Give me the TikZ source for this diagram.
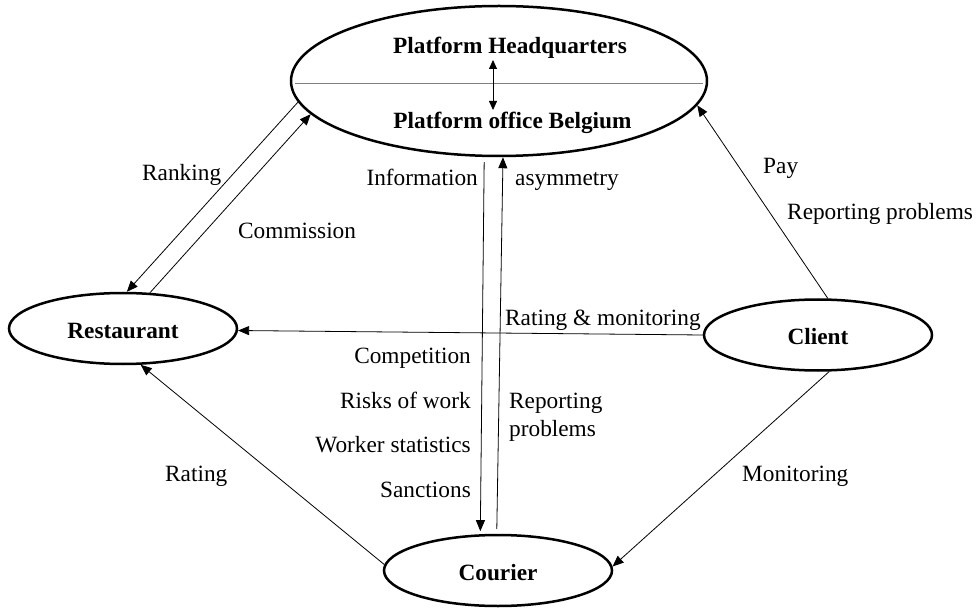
\documentclass[tikz,border=0pt]{standalone}
\usepackage{fontspec}
\setmainfont{Liberation Serif}
\usetikzlibrary{shapes.geometric,arrows.meta}
\begin{document}
\begin{tikzpicture}[x=1pt,y=-1pt,
  ell/.style={ellipse, draw, line width=2.5pt, inner sep=0pt, minimum width=228pt, minimum height=71pt,
    font=\fontsize{23.3}{28}\selectfont\bfseries, text height=19pt, text depth=0pt},
  lbl/.style={font=\fontsize{23.3}{28}\selectfont, inner sep=0pt},
  hdr/.style={font=\fontsize{23.3}{28}\selectfont\bfseries, inner sep=0pt},
  conn/.style={line width=0.8pt, -{Triangle[length=11pt,width=9pt]}},
  dblarr/.style={line width=0.8pt, {Triangle[length=9pt,width=8pt]}-{Triangle[length=9pt,width=8pt]}},
]
\useasboundingbox (0,0) rectangle (976,609);

% ellipses
\node[ell, minimum width=416pt, minimum height=150pt] (hq) at (499,81) {};
\node[ell] (rest) at (123,328.5) {Restaurant};
\node[ell] (client) at (818,335) {Client};
\node[ell] (courier) at (498,570.5) {Courier};

% headquarters content
\node[hdr, anchor=base] (hqt) at (510,54) {Platform Headquarters};
\node[hdr, anchor=base] (bel) at (512.5,129) {Platform office Belgium};
\draw[gray, line width=0.8pt] ([xshift=5pt,yshift=-2pt]hq.west) -- ([xshift=-5pt,yshift=-2pt]hq.east);
\coordinate (da1) at (493,60);
\coordinate (da2) at (493,110);
\draw[dblarr] (da1) -- (da2);

% connectors
\draw[conn] (hq.186.5) -- (rest.84.5);        % Ranking
\draw[conn] (rest.53) -- (hq.190.6);          % Commission
\draw[conn] (client.180) -- (rest.359);       % Rating & monitoring
\draw[conn] (courier.177.3) -- (rest.296.9);  % Rating
\draw[conn] (client.287) -- (courier.2.7);    % Monitoring
\draw[conn] (client.75.8) -- (hq.353.8);      % Pay
\draw[conn, shorten <=5pt, shorten >=3pt] (hq.259.4) -- (courier.116.6);
\draw[conn, shorten <=5pt] (courier.92.4) -- (hq.273);

% labels
\node[lbl, anchor=base west] (lrank) at (142,181) {Ranking};
\node[lbl, anchor=base west] (lcomm) at (238,239) {Commission};
\node[lbl, anchor=base east] (linfo) at (478,186) {Information};
\node[lbl, anchor=base west] (lasym) at (515,186) {asymmetry};
\node[lbl, anchor=base west] (lpay) at (763,174) {Pay};
\node[lbl, anchor=base west] (lrep1) at (787,220) {Reporting problems};
\node[lbl, anchor=base west] (lratmon) at (505,325) {Rating \& monitoring};
\node[lbl, anchor=base east] (lcomp) at (471,363) {Competition};
\node[lbl, anchor=base east] (lrisk) at (471,408) {Risks of work};
\node[lbl, anchor=base east] (lstat) at (471,452) {Worker statistics};
\node[lbl, anchor=base east] (lsanc) at (471,497) {Sanctions};
\node[lbl, anchor=base west] (lrep2a) at (509,408) {Reporting};
\node[lbl, anchor=base west] (lrep2b) at (509,436) {problems};
\node[lbl, anchor=base west] (lrat) at (165,481) {Rating};
\node[lbl, anchor=base west] (lmon) at (742,481) {Monitoring};
\end{tikzpicture}
\end{document}
